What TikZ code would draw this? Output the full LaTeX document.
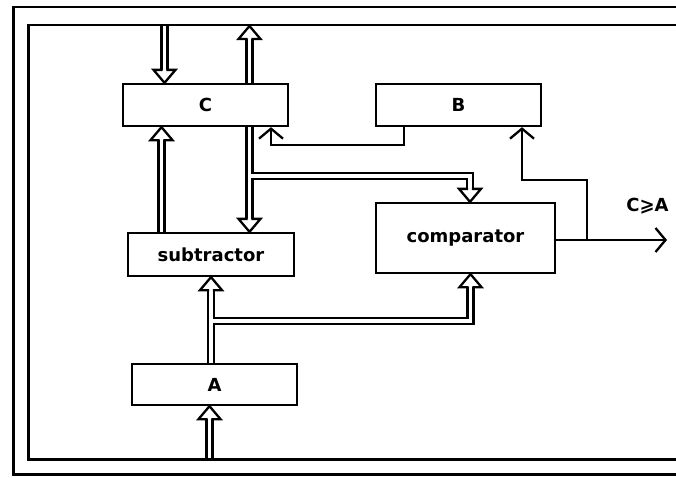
\documentclass[tikz,border=0pt]{standalone}
\usepackage{fontspec}
\setmainfont{DejaVu Sans}
\usetikzlibrary{arrows.meta,calc,backgrounds}
\begin{document}
\begin{tikzpicture}[x=1pt,y=-1pt,
  box/.style={draw,line width=2.3pt,fill=white,inner sep=0pt,font=\bfseries\fontsize{18}{20}\selectfont},
  frameline/.style={line width=2.3pt},
  busouter/.style={line width=8.4pt,line join=miter},
  businner/.style={line width=3.8pt,white,line join=miter},
  sig/.style={line width=2.3pt,line join=miter,-{Straight Barb[length=10pt,width=24pt]}},
  lbl/.style={font=\bfseries\fontsize{18}{20}\selectfont,inner sep=0pt},
  bushead/.pic={
    \fill[white] (-11,13) -- (0,0) -- (11,13) -- cycle;
    \draw[line width=2.3pt,line join=miter,miter limit=10] (-1.9,13) -- (-11,13) -- (0,0) -- (11,13) -- (1.9,13);
  }]
\useasboundingbox (0,0) rectangle (676,477);
\clip (0,0) rectangle (676,477);
% boxes
\node[box,minimum width=165pt,minimum height=42pt] (C) at (205.5,105) {C};
\node[box,minimum width=165pt,minimum height=42pt] (B) at (458.5,105) {B};
\node[box,minimum width=166pt,minimum height=43pt] (sub) at (211,254.5) {subtractor};
\node[box,minimum width=179pt,minimum height=70pt] (comp) at (465.5,238) {comparator};
\node[box,minimum width=165pt,minimum height=41pt] (A) at (214.5,384.5) {A};
\node[lbl] (cga) at (647.5,206) {C⩾A};
% helper coordinates
\coordinate (ft) at (0,25);
\coordinate (fb) at (0,459.5);
\coordinate (xa) at (164.5,0);
\coordinate (xb) at (249.5,0);
\coordinate (xc) at (161.5,0);
\coordinate (xd) at (249.5,0);
\coordinate (xe) at (470,0);
\coordinate (xf) at (211,0);
\coordinate (xg) at (470.5,0);
\coordinate (xh) at (209.5,0);
\coordinate (xi) at (404,0);
\coordinate (xj) at (271,0);
\coordinate (xk) at (587,0);
\coordinate (xl) at (522,0);
\coordinate (yb1) at (0,176);
\coordinate (yb2) at (0,321);
\coordinate (yl1) at (0,145);
\coordinate (yl2) at (0,180);
\coordinate (yo) at (0,240);
\coordinate (out) at (667,240);
\newcommand{\busroutes}[1]{%
  \draw[#1] (ft -| xa) -- ($(C.north -| xa)+(0,-13)$);
  \draw[#1] (C.north -| xb) -- ($(ft -| xb)+(0,14)$);
  \draw[#1] (sub.north -| xc) -- ($(C.south -| xc)+(0,13)$);
  \draw[#1] (C.south -| xd) -- ($(sub.north -| xd)+(0,-13)$);
  \draw[#1] (xd |- yb1) -- (xe |- yb1) -- ($(comp.north -| xe)+(0,-13)$);
  \draw[#1] (A.north -| xf) -- ($(sub.south -| xf)+(0,13)$);
  \draw[#1] (xf |- yb2) -- (xg |- yb2) -- ($(comp.south -| xg)+(0,13)$);
  \draw[#1] (fb -| xh) -- ($(A.south -| xh)+(0,13)$);
}
\begin{scope}[on background layer]
  \busroutes{busouter}
  \busroutes{businner}
  \pic[rotate=180] at (C.north -| xa) {bushead};
  \pic at ($(ft -| xb)+(0,1)$) {bushead};
  \pic at (C.south -| xc) {bushead};
  \pic[rotate=180] at (sub.north -| xd) {bushead};
  \pic[rotate=180] at (comp.north -| xe) {bushead};
  \pic at (sub.south -| xf) {bushead};
  \pic at (comp.south -| xg) {bushead};
  \pic at (A.south -| xh) {bushead};
  \draw[sig] (B.south -| xi) -- (xi |- yl1) -- (xj |- yl1) -- (C.south -| xj);
  \draw[sig] (comp.east |- yo) -- (out);
  \draw[sig] (xk |- yo) -- (xk |- yl2) -- (xl |- yl2) -- (B.south -| xl);
\end{scope}
% frame
\draw[frameline] (680,7) -- (13.5,7) -- (13.5,474.5) -- (680,474.5);
\draw[frameline] (680,25) -- (28.5,25) -- (28.5,459.5) -- (680,459.5);
\end{tikzpicture}
\end{document}
